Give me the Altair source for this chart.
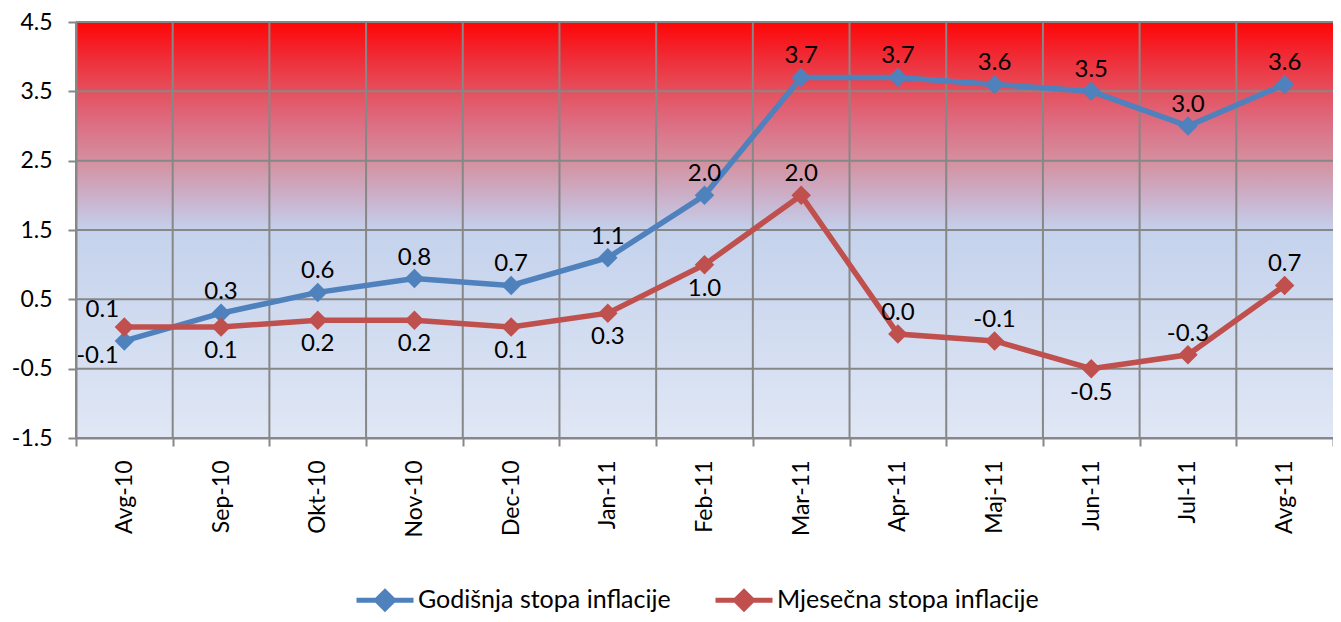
import altair as alt
import pandas as pd

months = ["Avg-10", "Sep-10", "Okt-10", "Nov-10", "Dec-10", "Jan-11", "Feb-11",
          "Mar-11", "Apr-11", "Maj-11", "Jun-11", "Jul-11", "Avg-11"]
godisnja = [-0.1, 0.3, 0.6, 0.8, 0.7, 1.1, 2.0, 3.7, 3.7, 3.6, 3.5, 3.0, 3.6]
mjesecna = [0.1, 0.1, 0.2, 0.2, 0.1, 0.3, 1.0, 2.0, 0.0, -0.1, -0.5, -0.3, 0.7]
series_names = ["Godišnja stopa inflacije", "Mjesečna stopa inflacije"]
y_ticks = [-1.5, -0.5, 0.5, 1.5, 2.5, 3.5, 4.5]

# label placement (styling, not data)
god_place = ["belowleft"] + ["above"] * 12
mj_place = ["aboveleft", "below", "below", "below", "below", "below", "below",
            "above", "above", "above", "below", "above", "above"]

rows = []
for i, m in enumerate(months):
    rows.append({"month": m, "series": series_names[0], "value": godisnja[i],
                 "label": f"{godisnja[i]:.1f}", "place": god_place[i], "order": i})
    rows.append({"month": m, "series": series_names[1], "value": mjesecna[i],
                 "label": f"{mjesecna[i]:.1f}", "place": mj_place[i], "order": i})
df = pd.DataFrame(rows)

W, H = 1257, 416
FONT = "Lato"
colors = ["#4F81BD", "#C0504D"]
grid_col = "#878787"
fix_minus = "replace(datum.label, '\u2212', '-')"

x = alt.X("month:N", sort=months, title=None,
          scale=alt.Scale(paddingInner=0, paddingOuter=0),
          axis=alt.Axis(tickBand="extent", grid=False, zindex=1,
                        domainColor=grid_col, domainWidth=2, tickColor=grid_col, tickWidth=2,
                        tickSize=8, labelAngle=270, labelAlign="right", labelBaseline="middle",
                        labelPadding=14, labelFont=FONT, labelFontSize=23, labelColor="black"))
y = alt.Y("value:Q", title=None,
          scale=alt.Scale(domain=[-1.5, 4.5], nice=False, zero=False),
          axis=alt.Axis(values=y_ticks, format=".1f", labelExpr=fix_minus, grid=False, zindex=1,
                        domainColor=grid_col, domainWidth=2, tickColor=grid_col, tickWidth=2,
                        tickSize=8, labelPadding=16, labelFont=FONT, labelFontSize=23,
                        labelColor="black"))

color = alt.Color("series:N", sort=series_names,
                  scale=alt.Scale(domain=series_names, range=colors),
                  legend=alt.Legend(title=None, orient="none", direction="horizontal",
                                    legendX=278, legendY=547,
                                    symbolType="M-1,0L1,0M0,-0.3L0.3,0L0,0.3L-0.3,0Z",
                                    symbolSize=3249, symbolStrokeWidth=5,
                                    labelFont=FONT, labelFontSize=25, labelColor="black",
                                    labelLimit=0, labelOffset=2, columnPadding=34))

gradient = {"gradient": "linear", "x1": 0, "y1": 0, "x2": 0, "y2": 1,
            "stops": [
                {"offset": 0.0, "color": "#FF0505"},
                {"offset": 0.08, "color": "#F02A34"},
                {"offset": 0.167, "color": "#E5505E"},
                {"offset": 0.25, "color": "#DC7085"},
                {"offset": 0.335, "color": "#D4909F"},
                {"offset": 0.42, "color": "#CBB0C9"},
                {"offset": 0.48, "color": "#C6C8E4"},
                {"offset": 0.5, "color": "#C4D2EC"},
                {"offset": 1.0, "color": "#E0E7F5"},
            ]}

bg_df = pd.DataFrame({"value": [min(y_ticks)], "value2": [max(y_ticks)]})
bg = alt.Chart(bg_df).mark_rect(fill=gradient, stroke=None).encode(
    y=y, y2="value2:Q")

hgrid = alt.Chart(pd.DataFrame({"value": y_ticks})).mark_rule(
    color=grid_col, strokeWidth=2).encode(y=y)
vgrid = alt.Chart(pd.DataFrame({"month": months})).mark_rule(
    color=grid_col, strokeWidth=2).encode(
    x=alt.X("month:N", sort=months, bandPosition=0, title=None,
            scale=alt.Scale(paddingInner=0, paddingOuter=0)))

base = alt.Chart(df)
lines = base.mark_line(strokeWidth=5.5).encode(x=x, y=y, color=color, detail="series:N", order="order:Q")
points = base.mark_point(shape="diamond", filled=True, size=380, opacity=1).encode(x=x, y=y, color=color)

def labels(place, **kw):
    return base.transform_filter(alt.datum.place == place).mark_text(
        font=FONT, fontSize=24, color="black", **kw
    ).encode(x=x, y=y, text="label:N")

lab_above = labels("above", baseline="bottom", dy=-9)
lab_below = labels("below", baseline="top", dy=12)
lab_bl = labels("belowleft", baseline="middle", dx=-27, dy=15)
lab_al = labels("aboveleft", baseline="middle", dx=-22, dy=-17)

chart = alt.layer(bg, hgrid, vgrid, lines, points, lab_above, lab_below, lab_bl, lab_al).properties(
    width=W, height=H,
    autosize=alt.AutoSizeParams(type="none"),
    padding={"left": 68, "top": 14, "right": 0, "bottom": 176},
).configure_view(stroke=None)

chart.save("out.html", embed_options={"renderer": "svg", "actions": False})
